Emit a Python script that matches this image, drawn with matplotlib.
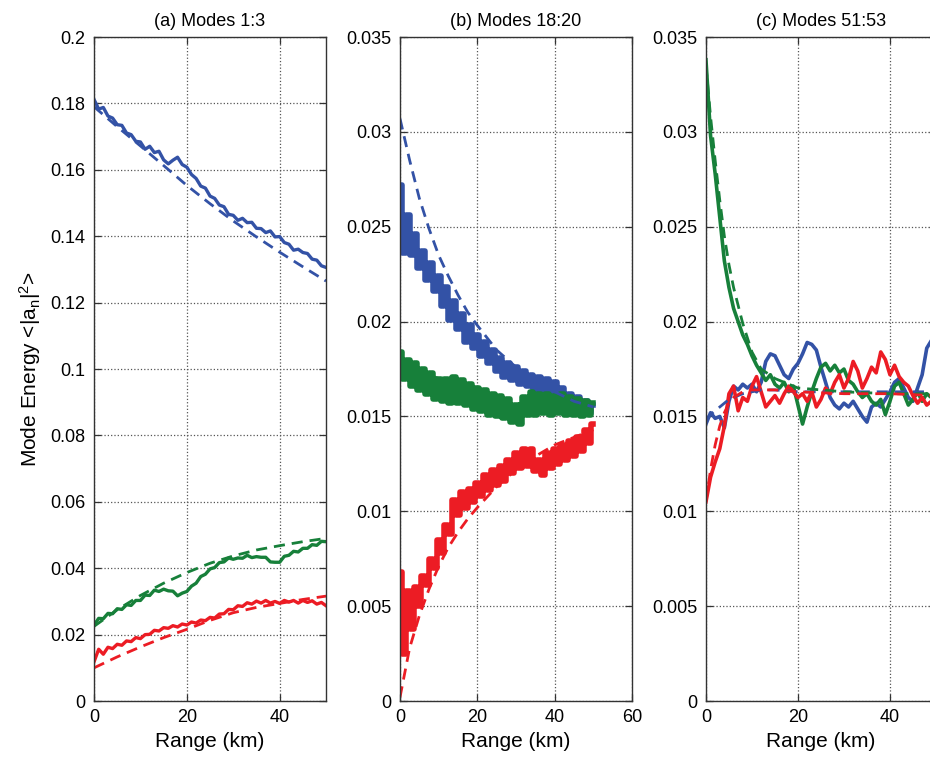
import matplotlib
matplotlib.use("Agg")
import matplotlib.pyplot as plt
import numpy as np
from matplotlib.ticker import FuncFormatter

plt.rcParams['font.family'] = ['Liberation Sans', 'DejaVu Sans']
plt.rcParams['mathtext.fontset'] = 'custom'
plt.rcParams['mathtext.rm'] = 'Liberation Sans'
plt.rcParams['mathtext.it'] = 'Liberation Sans'

#=========== data ===========#
km = list(range(0, 51))          # noisy (simulated) curves, 1 km apart

# (a) Modes 1:3
blue_a = [0.1812, 0.1783, 0.1788, 0.1762, 0.1756, 0.1736, 0.1734, 0.1711, 0.1706, 0.1686,
          0.1684, 0.1662, 0.1671, 0.1652, 0.1656, 0.1630, 0.1618, 0.1629, 0.1638, 0.1616,
          0.1608, 0.1586, 0.1574, 0.1551, 0.1545, 0.1521, 0.1514, 0.1494, 0.1489, 0.1466,
          0.1463, 0.1448, 0.1454, 0.1441, 0.1442, 0.1424, 0.1423, 0.1411, 0.1416, 0.1398,
          0.1399, 0.1381, 0.1376, 0.1358, 0.1361, 0.1351, 0.1348, 0.1331, 0.1328, 0.1311, 0.1306]
green_a = [0.0229, 0.0249, 0.0248, 0.0264, 0.0263, 0.0278, 0.0276, 0.0290, 0.0288, 0.0303,
           0.0303, 0.0319, 0.0318, 0.0334, 0.0330, 0.0337, 0.0332, 0.0331, 0.0317, 0.0325,
           0.0330, 0.0346, 0.0355, 0.0375, 0.0382, 0.0398, 0.0402, 0.0417, 0.0419, 0.0431,
           0.0427, 0.0431, 0.0430, 0.0439, 0.0432, 0.0435, 0.0433, 0.0433, 0.0419, 0.0418,
           0.0418, 0.0436, 0.0439, 0.0451, 0.0449, 0.0460, 0.0460, 0.0471, 0.0469, 0.0481, 0.0480]
red_a = [0.0118, 0.0156, 0.0141, 0.0162, 0.0158, 0.0171, 0.0168, 0.0181, 0.0179, 0.0191,
         0.0188, 0.0200, 0.0201, 0.0213, 0.0211, 0.0221, 0.0219, 0.0227, 0.0223, 0.0232,
         0.0229, 0.0238, 0.0235, 0.0244, 0.0242, 0.0252, 0.0250, 0.0262, 0.0263, 0.0276,
         0.0275, 0.0287, 0.0285, 0.0296, 0.0292, 0.0301, 0.0295, 0.0303, 0.0295, 0.0300,
         0.0294, 0.0303, 0.0298, 0.0303, 0.0295, 0.0303, 0.0297, 0.0302, 0.0292, 0.0297, 0.0287]

km_th_a = [0, 5, 10, 15, 20, 25, 30, 35, 40, 45, 50]
blue_th_a = [0.1790, 0.1730, 0.1672, 0.1613, 0.1553, 0.1498, 0.1446, 0.1398, 0.1352, 0.1308, 0.1265]
green_th_a = [0.0225, 0.0275, 0.0318, 0.0355, 0.0387, 0.0415, 0.0437, 0.0455, 0.0468, 0.0480, 0.0490]
red_th_a = [0.0100, 0.0133, 0.0163, 0.0191, 0.0216, 0.0243, 0.0266, 0.0282, 0.0294, 0.0306, 0.0316]

# (b) Modes 18:20
blue_b = [0.0272, 0.0236, 0.0256, 0.0235, 0.0246, 0.0228, 0.0237, 0.0222, 0.0231, 0.0216,
          0.0224, 0.0208, 0.0218, 0.0201, 0.0211, 0.0196, 0.0204, 0.0189, 0.0198, 0.0186,
          0.0193, 0.0182, 0.0189, 0.0178, 0.0185, 0.0174, 0.0181, 0.0171, 0.0178, 0.0169,
          0.0176, 0.0167, 0.0174, 0.0166, 0.0172, 0.0164, 0.0171, 0.0163, 0.0170, 0.0162,
          0.0168, 0.0160, 0.0165, 0.0157, 0.0162, 0.0155, 0.0160, 0.0153, 0.0158, 0.0152, 0.0156]
green_b = [0.0184, 0.0170, 0.0180, 0.0166, 0.0178, 0.0164, 0.0175, 0.0162, 0.0173, 0.0159,
           0.0170, 0.0158, 0.0170, 0.0157, 0.0171, 0.0157, 0.0169, 0.0156, 0.0167, 0.0154,
           0.0165, 0.0153, 0.0164, 0.0151, 0.0162, 0.0150, 0.0161, 0.0149, 0.0159, 0.0147,
           0.0156, 0.0146, 0.0160, 0.0151, 0.0163, 0.0151, 0.0162, 0.0152, 0.0162, 0.0151,
           0.0161, 0.0152, 0.0162, 0.0151, 0.0160, 0.0151, 0.0159, 0.0150, 0.0158, 0.0151, 0.0157]
red_b = [0.0068, 0.0025, 0.0058, 0.0038, 0.0060, 0.0050, 0.0066, 0.0061, 0.0075, 0.0070,
         0.0085, 0.0078, 0.0093, 0.0088, 0.0106, 0.0098, 0.0110, 0.0102, 0.0112, 0.0105,
         0.0115, 0.0108, 0.0119, 0.0111, 0.0122, 0.0114, 0.0124, 0.0116, 0.0127, 0.0120,
         0.0131, 0.0123, 0.0133, 0.0124, 0.0133, 0.0121, 0.0127, 0.0119, 0.0131, 0.0123,
         0.0133, 0.0125, 0.0135, 0.0127, 0.0137, 0.0129, 0.0139, 0.0132, 0.0143, 0.0136, 0.0146]

km_th_b = [0, 2.5, 5, 7.5, 10, 12.5, 15, 17.5, 20, 25, 30, 35, 40, 45, 50]
blue_th_b = [0.0307, 0.0285, 0.0265, 0.0249, 0.0235, 0.0224, 0.0214, 0.0205, 0.0198,
             0.0185, 0.0176, 0.0169, 0.0163, 0.0158, 0.0155]
green_th_b = [0.0180, 0.0177, 0.0175, 0.0172, 0.0170, 0.0168, 0.0166, 0.0164, 0.0163,
              0.0160, 0.0157, 0.0156, 0.0155, 0.0154, 0.0153]
red_th_b = [0.0002, 0.0028, 0.0045, 0.0059, 0.0071, 0.0081, 0.0089, 0.0096, 0.0102,
            0.0113, 0.0122, 0.0129, 0.0135, 0.0139, 0.0143]

# (c) Modes 51:53
blue_c = [0.0146, 0.0152, 0.0149, 0.0150, 0.0144, 0.0158, 0.0166, 0.0164, 0.0167, 0.0165,
          0.0167, 0.0163, 0.0168, 0.0179, 0.0183, 0.0182, 0.0177, 0.0172, 0.0170, 0.0175,
          0.0178, 0.0183, 0.0189, 0.0188, 0.0185, 0.0176, 0.0168, 0.0160, 0.0156, 0.0154,
          0.0157, 0.0155, 0.0158, 0.0154, 0.0150, 0.0147, 0.0155, 0.0157, 0.0155, 0.0159,
          0.0163, 0.0168, 0.0170, 0.0165, 0.0160, 0.0158, 0.0165, 0.0172, 0.0186, 0.0190, 0.0194]
green_c = [0.0338, 0.0298, 0.0278, 0.0255, 0.0232, 0.0218, 0.0207, 0.0200, 0.0193, 0.0188,
           0.0182, 0.0177, 0.0173, 0.0169, 0.0172, 0.0167, 0.0165, 0.0168, 0.0163, 0.0166,
           0.0156, 0.0146, 0.0155, 0.0163, 0.0170, 0.0176, 0.0178, 0.0174, 0.0177, 0.0173,
           0.0175, 0.0169, 0.0167, 0.0163, 0.0160, 0.0162, 0.0158, 0.0156, 0.0159, 0.0151,
           0.0158, 0.0166, 0.0168, 0.0162, 0.0156, 0.0159, 0.0163, 0.0158, 0.0162, 0.0160, 0.0161]
red_c = [0.0105, 0.0118, 0.0126, 0.0133, 0.0145, 0.0162, 0.0166, 0.0153, 0.0160, 0.0158,
         0.0166, 0.0171, 0.0163, 0.0155, 0.0158, 0.0161, 0.0157, 0.0162, 0.0166, 0.0163,
         0.0160, 0.0162, 0.0158, 0.0163, 0.0155, 0.0159, 0.0165, 0.0162, 0.0168, 0.0172,
         0.0165, 0.0170, 0.0179, 0.0174, 0.0165, 0.0170, 0.0176, 0.0173, 0.0184, 0.0180,
         0.0172, 0.0177, 0.0171, 0.0168, 0.0166, 0.0161, 0.0157, 0.0160, 0.0156, 0.0158, 0.0157]

km_th_c = [0, 1, 2, 3, 4, 5, 6, 8, 10, 12, 15, 20, 30, 40, 50]
blue_th_c = [0.0148, 0.0151, 0.0153, 0.0155, 0.0157, 0.0159, 0.0160, 0.0162, 0.0163,
             0.0164, 0.0164, 0.0163, 0.0163, 0.0163, 0.0163]
green_th_c = [0.0335, 0.0308, 0.0285, 0.0264, 0.0245, 0.0230, 0.0218, 0.0199, 0.0184,
              0.0175, 0.0170, 0.0165, 0.0163, 0.0162, 0.0162]
red_th_c = [0.0105, 0.0122, 0.0135, 0.0145, 0.0152, 0.0157, 0.0160, 0.0163, 0.0164,
            0.0164, 0.0164, 0.0163, 0.0162, 0.0162, 0.0161]

titles = ['(a) Modes 1:3', '(b) Modes 18:20', '(c) Modes 51:53']
ylims = [(0, 0.2), (0, 0.035), (0, 0.035)]
yticks = [np.arange(0, 0.2001, 0.02), np.arange(0, 0.03501, 0.005), np.arange(0, 0.03501, 0.005)]
xlims = [(0, 50), (0, 60), (0, 50)]
xticks = [[0, 20, 40], [0, 20, 40, 60], [0, 20, 40]]

BLUE = '#3352a6'
GREEN = '#17803a'
RED = '#ec1c24'

fig = plt.figure(figsize=(9.30, 7.67), dpi=100)
positions = [[0.1011, 0.0860, 0.2495, 0.8657],
             [0.4301, 0.0860, 0.2495, 0.8657],
             [0.7591, 0.0860, 0.2473, 0.8657]]

# noisy width and draw style per panel
panels = [
    (blue_a, green_a, red_a, km_th_a, blue_th_a, green_th_a, red_th_a, 2.4, 'default'),
    (blue_b, green_b, red_b, km_th_b, blue_th_b, green_th_b, red_th_b, 4.0, 'steps-mid'),
    (blue_c, green_c, red_c, km_th_c, blue_th_c, green_th_c, red_th_c, 2.6, 'default'),
]

fmt = FuncFormatter(lambda v, p: '%g' % round(v, 4))

for i, (b, g, r, kt, bt, gt, rt, lw, ds) in enumerate(panels):
    ax = fig.add_axes(positions[i])
    ax.plot(km, b, color=BLUE, lw=lw, drawstyle=ds)
    ax.plot(km, g, color=GREEN, lw=lw, drawstyle=ds)
    ax.plot(km, r, color=RED, lw=lw, drawstyle=ds)
    ax.plot(kt, bt, color=BLUE, lw=2.0, ls=(0, (4, 2.5)))
    ax.plot(kt, gt, color=GREEN, lw=2.0, ls=(0, (4, 2.5)))
    ax.plot(kt, rt, color=RED, lw=2.0, ls=(0, (4, 2.5)))

    ax.set_xlim(xlims[i])
    ax.set_ylim(ylims[i])
    ax.set_xticks(xticks[i])
    ax.set_yticks(yticks[i])
    ax.yaxis.set_major_formatter(fmt)
    ax.grid(True, ls=':', color='#555555', lw=0.9)
    ax.tick_params(direction='in', top=True, right=True, length=5, labelsize=13, width=0.9,
                   color='#333333', pad=6)
    for s in ax.spines.values():
        s.set_linewidth(1.0)
        s.set_color('#333333')
    ax.set_title(titles[i], fontsize=13, pad=8)
    ax.set_xlabel('Range (km)', fontsize=15, labelpad=4)
    if i == 0:
        ax.set_ylabel(r'Mode Energy <|a$_\mathregular{n}$|$^\mathregular{2}$>', fontsize=15, labelpad=5)

fig.savefig('out.png', dpi=100)
